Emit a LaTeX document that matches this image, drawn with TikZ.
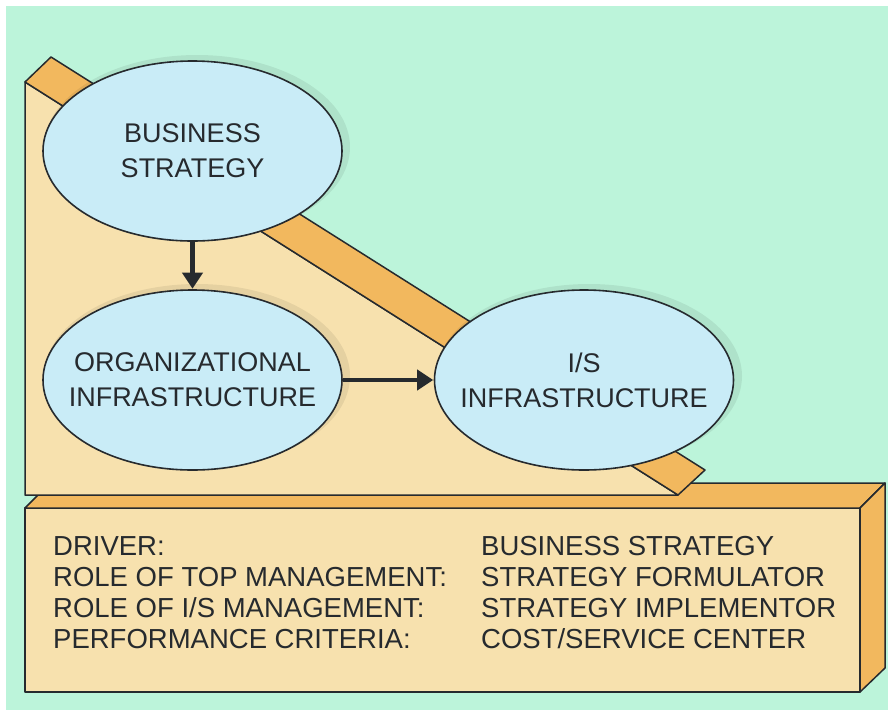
\documentclass[tikz,border=0pt]{standalone}
\usepackage{fontspec}
\setmainfont{Liberation Sans}
\usetikzlibrary{shapes.geometric,arrows.meta}
\definecolor{mint}{RGB}{188,244,218}
\definecolor{peach}{RGB}{247,225,174}
\definecolor{orangeface}{RGB}{242,184,94}
\definecolor{lightblue}{RGB}{201,236,247}
\definecolor{ink}{RGB}{38,42,46}
\tikzset{
  face/.style={draw=ink, line width=1.5pt, line join=round},
  bubble/.style={ellipse, draw=ink, line width=1.6pt, fill=lightblue, minimum width=299pt, minimum height=180pt, inner sep=0pt},
  bubtext/.style={inner sep=0pt, align=center, font=\fontsize{27}{35}\selectfont, text=ink},
  flow/.style={draw=ink, line width=4.2pt, -{Triangle[length=16pt,width=20pt]}, shorten >=0.5pt},
  rowtext/.style={anchor=base west, inner sep=0pt, font=\fontsize{27.5}{31}\selectfont, text=ink},
  glow/.style={fill=black, opacity=0.07}
}
\begin{document}
\begin{tikzpicture}[x=1pt,y=-1pt]
\useasboundingbox (0,0) rectangle (888,710);
\fill[white] (0,0) rectangle (888,710);
\fill[mint] (6,6) rectangle (888,710);
% box (bottom panel)
\path[face, fill=peach] (25,508) -- (860,508) -- (860,692) -- (25,692) -- cycle;
\path[face, fill=orangeface] (25,508) -- (50,483) -- (885,483) -- (860,508) -- cycle;
\path[face, fill=orangeface] (860,508) -- (885,483) -- (885,668) -- (860,692) -- cycle;
% wedge
\path[face, fill=peach] (25,82) -- (678,495) -- (25,495) -- cycle;
\path[face, fill=orangeface] (25,82) -- (51,57) -- (705,470) -- (678,495) -- cycle;
% soft shadows
\fill[glow] (197,147) ellipse (153pt and 92pt);
\fill[glow] (197,376) ellipse (153pt and 92pt);
\fill[glow] (589,376) ellipse (153pt and 92pt);
% ellipses
\node[bubble] (bs) at (192.5,151) {};
\node[bubble] (org) at (192.5,380) {};
\node[bubble] (is) at (584,380) {};
\node[bubtext] (bst) at (bs.center) {BUSINESS\\STRATEGY};
\node[bubtext] (orgt) at (org.center) {ORGANIZATIONAL\\INFRASTRUCTURE};
\node[bubtext] (ist) at (is.center) {I/S\\INFRASTRUCTURE};
% arrows
\draw[flow] (bs.south) -- (org.north);
\draw[flow] (org.east) -- (is.west);
% table
\node[rowtext] (l1) at (53,555) {DRIVER:};
\node[rowtext] (l2) at (53,586) {ROLE OF TOP MANAGEMENT:};
\node[rowtext] (l3) at (53,617) {ROLE OF I/S MANAGEMENT:};
\node[rowtext] (l4) at (53,648) {PERFORMANCE CRITERIA:};
\node[rowtext] (r1) at (481,555) {BUSINESS STRATEGY};
\node[rowtext] (r2) at (481,586) {STRATEGY FORMULATOR};
\node[rowtext] (r3) at (481,617) {STRATEGY IMPLEMENTOR};
\node[rowtext] (r4) at (481,648) {COST/SERVICE CENTER};
\end{tikzpicture}
\end{document}
